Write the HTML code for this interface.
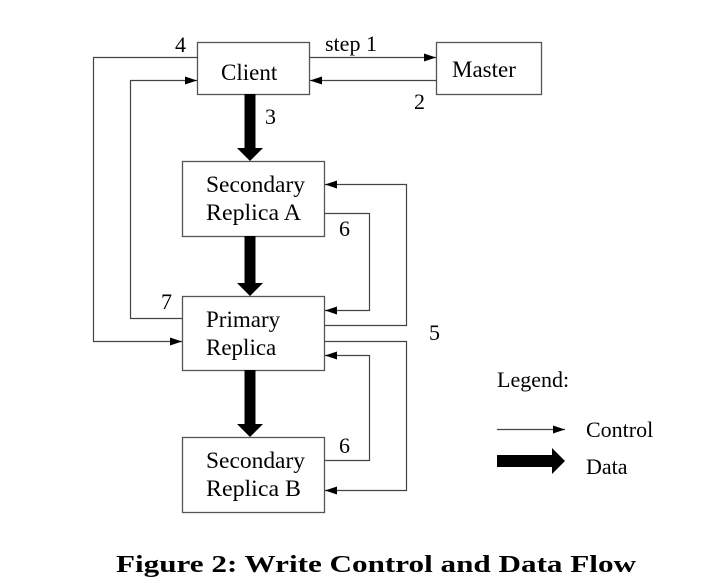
<!DOCTYPE html>
<html><head><meta charset="utf-8"><style>
html,body{margin:0;padding:0;background:#fff;}
svg{display:block;}
text{font-family:"Liberation Serif",serif;fill:#000;}
</style></head><body>
<svg width="727" height="587" viewBox="0 0 727 587" xmlns="http://www.w3.org/2000/svg">
<defs>
<marker id="a" markerWidth="12" markerHeight="8" refX="12" refY="4" orient="auto" markerUnits="userSpaceOnUse">
<path d="M0,0 L12,4 L0,8 Z" fill="#000"/></marker>
</defs>
<g fill="#fff" stroke="#555" stroke-width="1.3">
<rect x="197.5" y="42.5" width="112" height="52"/>
<rect x="436.5" y="42.5" width="105" height="52"/>
<rect x="182.5" y="161.5" width="142" height="75"/>
<rect x="182.5" y="296.5" width="142" height="74"/>
<rect x="182.5" y="437.5" width="142" height="75"/>
</g>
<g fill="none" stroke="#444" stroke-width="1.2">
<path d="M309.5,57.5 H436" marker-end="url(#a)"/>
<path d="M436.5,80.5 H310" marker-end="url(#a)"/>
<path d="M197.5,57.5 H93.5 V341.5 H182" marker-end="url(#a)"/>
<path d="M182.5,318.5 H130.5 V80.5 H197" marker-end="url(#a)"/>
<path d="M324.5,213.5 H369.5 V310.5 H325" marker-end="url(#a)"/>
<path d="M324.5,325.5 H406.5 V184.5 H325" marker-end="url(#a)"/>
<path d="M324.5,341.5 H406.5 V490.5 H325" marker-end="url(#a)"/>
<path d="M324.5,460.5 H369.5 V355.5 H325" marker-end="url(#a)"/>
<path d="M497,429.5 H565" marker-end="url(#a)"/>
</g>
<g fill="#000">
<path d="M244.5,94 h11 v54 h7.5 L250,161 L237,148 h7.5 Z"/>
<path d="M244.5,236 h11 v47 h7.5 L250,296 L237,283 h7.5 Z"/>
<path d="M244.5,370 h11 v54 h7.5 L250,437 L237,424 h7.5 Z"/>
<path d="M497,455 H552 V448 L565,461 L552,474 V467 H497 Z"/>
</g>
<g font-size="23">
<text x="221" y="80">Client</text>
<text x="452" y="77">Master</text>
<text x="206" y="192" textLength="99" lengthAdjust="spacingAndGlyphs">Secondary</text>
<text x="206" y="220" textLength="95" lengthAdjust="spacingAndGlyphs">Replica A</text>
<text x="206" y="327">Primary</text>
<text x="206" y="355">Replica</text>
<text x="206" y="468" textLength="99" lengthAdjust="spacingAndGlyphs">Secondary</text>
<text x="206" y="496" textLength="95" lengthAdjust="spacingAndGlyphs">Replica B</text>
</g>
<g font-size="22">
<text x="175" y="52">4</text>
<text x="325" y="51">step 1</text>
<text x="414" y="109">2</text>
<text x="265" y="124">3</text>
<text x="339" y="236">6</text>
<text x="161" y="309">7</text>
<text x="429" y="340">5</text>
<text x="339" y="453">6</text>
<text x="497" y="387">Legend:</text>
<text x="586" y="437">Control</text>
<text x="586" y="474">Data</text>
</g>
<text x="116" y="572" font-size="24" font-weight="bold" textLength="520" lengthAdjust="spacingAndGlyphs">Figure 2: Write Control and Data Flow</text>
</svg>
</body></html>
